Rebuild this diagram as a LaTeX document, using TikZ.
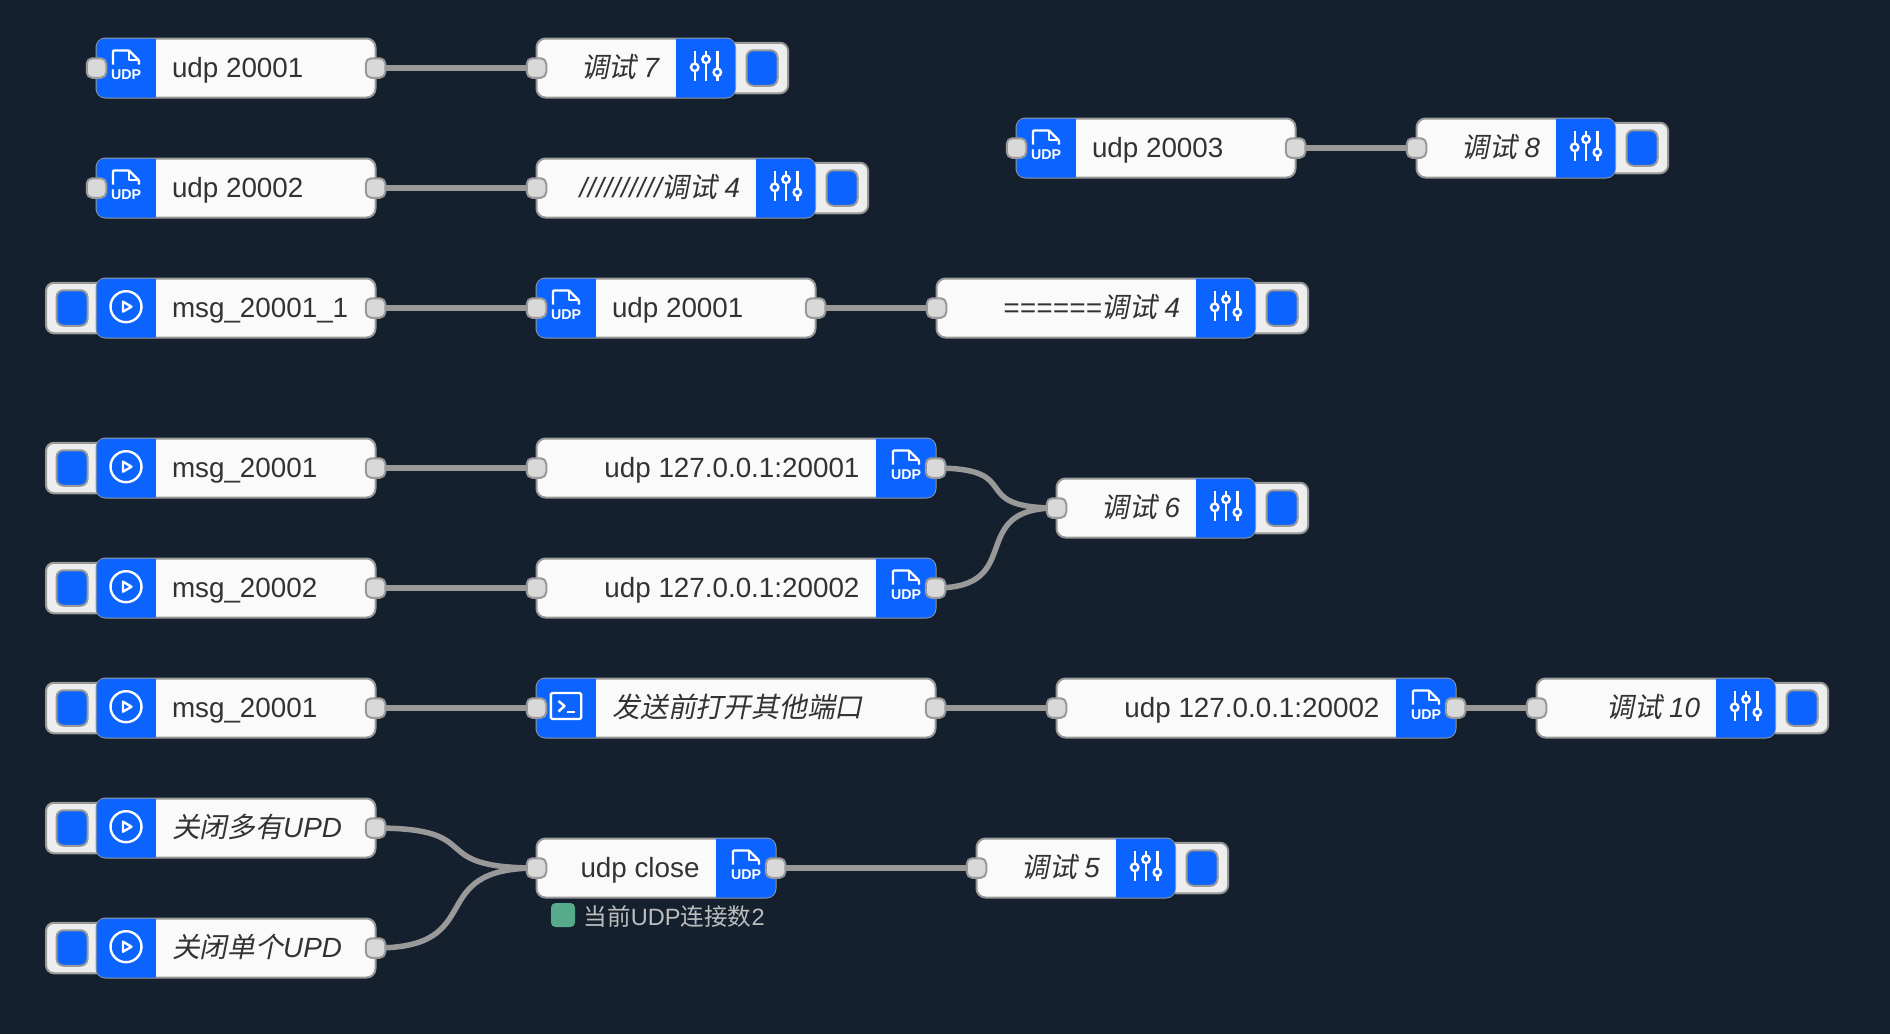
\documentclass[tikz,border=0pt]{standalone}
\usepackage{fontspec}
\setmainfont{Liberation Sans}
\newfontfamily\cjkit[FakeSlant=0.2]{Noto Sans CJK SC}
\newfontfamily\cjkup{Noto Sans CJK SC}
\definecolor{pagebg}{HTML}{15202E}
\definecolor{nodefill}{HTML}{FAFAFA}
\definecolor{edge}{HTML}{999999}
\definecolor{flowblue}{HTML}{0B64FF}
\definecolor{portfill}{HTML}{D9D9D9}
\definecolor{btnfill}{HTML}{EEEEEE}
\definecolor{labelink}{HTML}{333333}
\definecolor{statusgreen}{HTML}{55AB8A}
\definecolor{statusink}{HTML}{BDBDBD}
\pgfdeclarelayer{wirelayer}
\pgfsetlayers{wirelayer,main}
\tikzset{
  nodebody/.style={draw=edge,line width=2pt,fill=nodefill,rounded corners=9pt,minimum height=59pt,inner sep=0pt,outer sep=0pt},
  portnode/.style={draw=edge,line width=2pt,fill=portfill,rounded corners=5.5pt,minimum width=19.5pt,minimum height=19.5pt,inner sep=0pt,outer sep=0pt},
  btnouter/.style={draw=edge,line width=2pt,fill=btnfill,rounded corners=8pt,minimum width=60pt,minimum height=50.5pt,inner sep=0pt,outer sep=0pt},
  btninner/.style={draw=edge,line width=2pt,fill=flowblue,rounded corners=7pt,minimum width=31pt,minimum height=35.5pt,inner sep=0pt,outer sep=0pt},
  wire/.style={draw=edge,line width=5.5pt},
  glyph/.style={draw=white,line width=2.4pt},
  label/.style={text=labelink,inner sep=0pt,outer sep=0pt,font=\fontsize{27.8}{30}\selectfont},
  udpmark/.style={text=white,inner sep=0pt,font=\fontsize{14.2}{14}\selectfont\bfseries},
  statustext/.style={text=statusink,inner sep=0pt,anchor=west,font=\fontsize{23.6}{26}\selectfont},
}
% body + blue icon block: id,L,R,y,iconL,iconR
\newcommand\flowbody[6]{%
  \pgfmathsetmacro\cxx{(#2+#3)/2}\pgfmathsetmacro\www{#3-#2-2}%
  \node[nodebody,minimum width=\www pt] (#1) at (\cxx,#4) {};
  \begin{scope}
    \clip[rounded corners=8.5pt] (#2+1,#4-29.5) rectangle (#3-1,#4+29.5);
    \fill[flowblue] (#5,#4-31) rectangle (#6,#4+31);
  \end{scope}}
% icons: id, x, y
\newcommand\udpicon[3]{%
  \begin{scope}[shift={(#2,#3)}]
    \draw[glyph,line join=round,rounded corners=1pt] (-13,-3.5) -- (-13,-17.5) -- (3,-17.5) -- (13,-7.5) -- (13,-3.5);
    \draw[glyph,line join=round] (3,-17.5) -- (3,-8) -- (13,-8);
    \node[udpmark] (#1-mark) at (0,6.5) {UDP};
  \end{scope}}
\newcommand\playicon[3]{%
  \begin{scope}[shift={(#2,#3)}]
    \draw[glyph] (0,-1.3) circle (15.5);
    \draw[glyph,line join=round] (-3,-6.3) -- (5.5,-1.3) -- (-3,3.7) -- cycle;
  \end{scope}}
\newcommand\slidericon[3]{%
  \begin{scope}[shift={(#2,#3)}]
    \draw[glyph] (-11.3,-17) -- (-11.3,13) (0,-17) -- (0,13) (11.3,-17) -- (11.3,13);
    \filldraw[glyph,fill=flowblue] (-11.3,-0.7) circle (3.7) (0,-8.7) circle (3.7) (11.3,4.3) circle (3.7);
  \end{scope}}
\newcommand\termicon[3]{%
  \begin{scope}[shift={(#2,#3)}]
    \draw[glyph,rounded corners=1.5pt] (-15.2,-15) rectangle (15.2,11);
    \draw[glyph,line join=round] (-7.5,-7) -- (-1.5,-2) -- (-7.5,3.5);
    \draw[glyph] (1,4) -- (9,4);
  \end{scope}}
% inject: id,y,text
\newcommand\injectnode[3]{%
  \node[btnouter] (#1-btn) at (76,#2) {};
  \node[btninner] (#1-led) at (72,#2) {};
  \flowbody{#1}{95.5}{376.5}{#2}{95}{156}
  \playicon{#1}{126}{#2}
  \node[label,anchor=base west] (#1-text) at (172,#2+9.5) {#3};
  \node[portnode] (#1-out) at (#1.east) {};}
% udp in, icon left: id,L,R,y,text
\newcommand\udpinnode[5]{%
  \flowbody{#1}{#2}{#3}{#4}{#2-1}{#2+60.5}
  \udpicon{#1}{#2+30.5}{#4}
  \node[label,anchor=base west] (#1-text) at (#2+76.5,#4+9.5) {#5};
  \node[portnode] (#1-in) at (#1.west) {};
  \node[portnode] (#1-out) at (#1.east) {};}
% udp out, icon right: id,L,R,y,text
\newcommand\udpoutnode[5]{%
  \flowbody{#1}{#2}{#3}{#4}{#3-60.5}{#3+1}
  \udpicon{#1}{#3-30.5}{#4}
  \node[label,anchor=base east] (#1-text) at (#3-77,#4+9.5) {#5};
  \node[portnode] (#1-in) at (#1.west) {};
  \node[portnode] (#1-out) at (#1.east) {};}
% function: id,L,R,y,text
\newcommand\funcnode[5]{%
  \flowbody{#1}{#2}{#3}{#4}{#2-1}{#2+60.5}
  \termicon{#1}{#2+30.5}{#4}
  \node[label,anchor=base west] (#1-text) at (#2+77,#4+9.5) {#5};
  \node[portnode] (#1-in) at (#1.west) {};
  \node[portnode] (#1-out) at (#1.east) {};}
% debug: id,L,R,y,text
\newcommand\debugnode[5]{%
  \pgfmathsetmacro\bxx{#3+22}\pgfmathsetmacro\lxx{#3+26}%
  \node[btnouter] (#1-btn) at (\bxx,#4) {};
  \node[btninner] (#1-led) at (\lxx,#4) {};
  \flowbody{#1}{#2}{#3}{#4}{#3-60.5}{#3+1}
  \slidericon{#1}{#3-30}{#4}
  \node[label,anchor=base east] (#1-text) at (#3-76,#4+9.5) {#5};
  \node[portnode] (#1-in) at (#1.west) {};}
\newcommand\dbg[2]{{\cjkit #1}\hspace{7pt}\textit{#2}}
\newcommand\spaced[2]{{\itshape\addfontfeature{LetterSpace=#1}#2}}
\begin{document}
\begin{tikzpicture}[x=1pt,y=-1pt]
\useasboundingbox (0,0) rectangle (1890,1034);
\begin{pgfonlayer}{wirelayer}
  \fill[pagebg] (0,0) rectangle (1890,1034);
\end{pgfonlayer}
\udpinnode{ua}{95.5}{376.5}{68}{udp 20001}
\debugnode{da}{535.5}{736}{68}{\dbg{调试}{7}}
\udpinnode{ub}{95.5}{376.5}{188}{udp 20002}
\debugnode{db}{535.5}{816}{188}{\spaced{2}{//////////}\dbg{调试}{4}}
\udpinnode{uc}{1015.5}{1296.5}{148}{udp 20003}
\debugnode{dc}{1415.5}{1616}{148}{\dbg{调试}{8}}
\injectnode{ia}{308}{msg\_20001\_1}
\udpinnode{ud}{535.5}{816.5}{308}{udp 20001}
\debugnode{dd}{935.5}{1256}{308}{\spaced{1}{======}\dbg{调试}{4}}
\injectnode{ib}{468}{msg\_20001}
\udpoutnode{oa}{535.5}{936.5}{468}{udp 127.0.0.1:20001}
\injectnode{ic}{588}{msg\_20002}
\udpoutnode{ob}{535.5}{936.5}{588}{udp 127.0.0.1:20002}
\debugnode{de}{1055.5}{1256}{508}{\dbg{调试}{6}}
\injectnode{id}{708}{msg\_20001}
\funcnode{fa}{535.5}{936.5}{708}{{\cjkit 发送前打开其他端口}}
\udpoutnode{oc}{1055.5}{1456.5}{708}{udp 127.0.0.1:20002}
\debugnode{df}{1535.5}{1776}{708}{\dbg{调试}{10}}
\injectnode{ie}{828}{{\cjkit 关闭多有}\textit{UPD}}
\injectnode{if}{948}{{\cjkit 关闭单个}\textit{UPD}}
\udpoutnode{oe}{535.5}{776.5}{868}{udp close}
\debugnode{dg}{975.5}{1176}{868}{\dbg{调试}{5}}
\fill[statusgreen,rounded corners=4.5pt] (551,903) rectangle (575,927);
\node[statustext] (status) at (583.5,916.5) {{\cjkup 当前}UDP{\cjkup 连接数}2};
\begin{pgfonlayer}{wirelayer}
  \draw[wire] (ua-out.center) -- (da-in.center);
  \draw[wire] (ub-out.center) -- (db-in.center);
  \draw[wire] (uc-out.center) -- (dc-in.center);
  \draw[wire] (ia-out.center) -- (ud-in.center);
  \draw[wire] (ud-out.center) -- (dd-in.center);
  \draw[wire] (ib-out.center) -- (oa-in.center);
  \draw[wire] (ic-out.center) -- (ob-in.center);
  \draw[wire] (oa-out.center) .. controls +(92,0) and +(-92,0) .. (de-in.center);
  \draw[wire] (ob-out.center) .. controls +(92,0) and +(-92,0) .. (de-in.center);
  \draw[wire] (id-out.center) -- (fa-in.center);
  \draw[wire] (fa-out.center) -- (oc-in.center);
  \draw[wire] (oc-out.center) -- (df-in.center);
  \draw[wire] (ie-out.center) .. controls +(115,0) and +(-115,0) .. (oe-in.center);
  \draw[wire] (if-out.center) .. controls +(115,0) and +(-115,0) .. (oe-in.center);
  \draw[wire] (oe-out.center) -- (dg-in.center);
\end{pgfonlayer}
\end{tikzpicture}
\end{document}
